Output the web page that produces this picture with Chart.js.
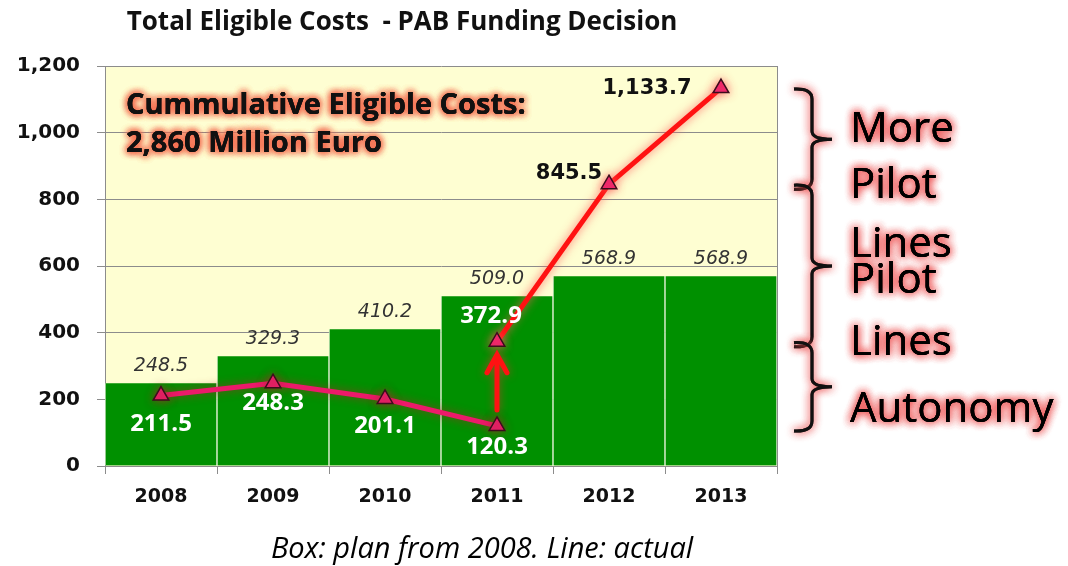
<!DOCTYPE html>
<html>
<head>
<meta charset="utf-8">
<script src="https://cdn.jsdelivr.net/npm/chart.js@4/dist/chart.umd.min.js"></script>
<style>
  html, body { margin: 0; padding: 0; background: #ffffff; }
  #wrap { width: 1068px; height: 566px; }
</style>
</head>
<body>
<div id="wrap"><canvas id="chart" width="1068" height="566"></canvas></div>
<script>
// data
const years = ['2008', '2009', '2010', '2011', '2012', '2013'];
const planValues = [248.5, 329.3, 410.2, 509.0, 568.9, 568.9];
const actualValues = [211.5, 248.3, 201.1, 120.3, null, null];
const upgradeValues = [null, null, null, 372.9, 845.5, 1133.7];
const sideLabels = ['More', 'Pilot', 'Lines', 'Pilot', 'Lines', 'Autonomy'];
const noteLines = ['Cummulative Eligible Costs:', '2,860 Million Euro'];
const chartTitle = 'Total Eligible Costs  - PAB Funding Decision';
const caption = 'Box: plan from 2008. Line: actual';

const GREEN = '#009000';
const PINK = '#ec1a6a';
const RED = '#ff1212';

function fmt(v) {
  return v.toLocaleString('en-US', { minimumFractionDigits: 1, maximumFractionDigits: 1 });
}

function glowText(ctx, text, x, y, glow, blur, passes) {
  ctx.save();
  ctx.shadowColor = glow;
  ctx.shadowBlur = blur;
  for (let i = 0; i < passes; i++) ctx.fillText(text, x, y);
  ctx.restore();
  ctx.fillText(text, x, y);
}

// yellow plot background + right border
const plotBackground = {
  id: 'plotBackground',
  beforeDraw(chart) {
    const { ctx, chartArea: a } = chart;
    ctx.save();
    ctx.fillStyle = '#fefed2';
    ctx.fillRect(a.left, a.top, a.right - a.left, a.bottom - a.top);
    ctx.restore();
  },
  afterDraw(chart) {
    const { ctx, chartArea: a } = chart;
    ctx.save();
    ctx.strokeStyle = '#8c8c8c';
    ctx.lineWidth = 1;
    ctx.beginPath();
    ctx.moveTo(a.right + 0.5, a.top);
    ctx.lineTo(a.right + 0.5, a.bottom);
    ctx.stroke();
    ctx.restore();
  }
};

// glow under the line datasets
const lineGlow = {
  id: 'lineGlow',
  beforeDatasetDraw(chart, args) {
    const ds = chart.data.datasets[args.index];
    if (ds.type !== 'line') return;
    chart.ctx.save();
    chart.ctx.shadowColor = ds.glow;
    chart.ctx.shadowBlur = 10;
  },
  afterDatasetDraw(chart, args) {
    const ds = chart.data.datasets[args.index];
    if (ds.type !== 'line') return;
    chart.ctx.restore();
  }
};

const labelsAndNotes = {
  id: 'labelsAndNotes',
  afterDatasetsDraw(chart) {
    const { ctx, scales } = chart;
    const y = scales.y;
    const x = scales.x;
    ctx.save();

    // arrow from 2011 actual to 2011 upgraded
    const ax = x.getPixelForValue(3);
    const y0 = y.getPixelForValue(actualValues[3]) - 16;
    const y1 = y.getPixelForValue(upgradeValues[3]) + 13;
    ctx.save();
    ctx.strokeStyle = RED;
    ctx.lineWidth = 5;
    ctx.lineCap = 'round';
    ctx.shadowColor = 'rgba(200,60,40,0.8)';
    ctx.shadowBlur = 8;
    ctx.beginPath();
    ctx.moveTo(ax, y0);
    ctx.lineTo(ax, y1);
    ctx.moveTo(ax - 10, y1 + 18);
    ctx.lineTo(ax, y1);
    ctx.lineTo(ax + 10, y1 + 18);
    ctx.stroke();
    ctx.restore();

    // plan labels above the bars
    const barMeta = chart.getDatasetMeta(2);
    ctx.font = 'oblique 19px "DejaVu Sans"';
    ctx.fillStyle = '#333333';
    ctx.textAlign = 'center';
    ctx.textBaseline = 'middle';
    barMeta.data.forEach((bar, i) => {
      ctx.fillText(planValues[i].toFixed(1), bar.x, bar.y - 17);
    });

    // actual labels, white under the points
    const actMeta = chart.getDatasetMeta(0);
    ctx.font = 'bold 24px "Open Sans"';
    ctx.fillStyle = '#ffffff';
    const actOffsets = [29, 20, 27, 21];
    actMeta.data.forEach((pt, i) => {
      if (actualValues[i] == null) return;
      ctx.fillText(fmt(actualValues[i]), pt.x, pt.y + actOffsets[i]);
    });

    // upgraded labels
    const upMeta = chart.getDatasetMeta(1);
    const p3 = upMeta.data[3];
    ctx.fillText(fmt(upgradeValues[3]), p3.x - 6, p3.y - 26);
    ctx.font = 'bold 21px "DejaVu Sans"';
    ctx.fillStyle = '#111111';
    const p4 = upMeta.data[4];
    ctx.fillText(fmt(upgradeValues[4]), p4.x - 40, p4.y - 11);
    const p5 = upMeta.data[5];
    ctx.fillText(fmt(upgradeValues[5]), p5.x - 74, p5.y);

    // note inside the plot
    ctx.textAlign = 'left';
    ctx.textBaseline = 'alphabetic';
    ctx.font = 'bold 29px "Open Sans"';
    ctx.fillStyle = '#111111';
    glowText(ctx, noteLines[0], 126, 114, 'rgba(245,110,80,0.95)', 7, 4);
    glowText(ctx, noteLines[1], 126, 152, 'rgba(245,110,80,0.95)', 7, 4);

    ctx.restore();
  },
  afterDraw(chart) {
    const { ctx, scales } = chart;
    const y = scales.y;
    ctx.save();

    // title and caption
    ctx.fillStyle = '#111111';
    ctx.textAlign = 'center';
    ctx.textBaseline = 'alphabetic';
    ctx.font = 'bold 26px "Open Sans"';
    ctx.fillText(chartTitle, 402, 30);
    ctx.font = 'italic 29px "Open Sans"';
    ctx.fillStyle = '#000000';
    ctx.fillText(caption, 482, 558);

    // braces on the right, spanning the line's steps
    const spans = [
      [upgradeValues[5], upgradeValues[4]],
      [upgradeValues[4], upgradeValues[3]],
      [upgradeValues[3], actualValues[3]]
    ];
    const bx = 812;
    spans.forEach(([hi, lo]) => {
      const top = y.getPixelForValue(hi) + 1;
      const bot = y.getPixelForValue(lo) + 5;
      const mid = (top + bot) / 2;
      ctx.save();
      ctx.strokeStyle = '#111111';
      ctx.lineWidth = 3;
      ctx.shadowColor = 'rgba(235,70,70,0.85)';
      ctx.shadowBlur = 9;
      for (let k = 0; k < 2; k++) {
        ctx.beginPath();
        ctx.moveTo(bx - 18, top);
        ctx.quadraticCurveTo(bx, top - 1, bx, top + 10);
        ctx.lineTo(bx, mid - 8);
        ctx.quadraticCurveTo(bx, mid, bx + 20, mid);
        ctx.moveTo(bx + 20, mid);
        ctx.quadraticCurveTo(bx, mid, bx, mid + 8);
        ctx.lineTo(bx, bot - 10);
        ctx.quadraticCurveTo(bx, bot + 1, bx - 18, bot);
        ctx.stroke();
      }
      ctx.restore();
    });

    // side labels
    ctx.textAlign = 'left';
    ctx.font = '42px "Open Sans"';
    ctx.fillStyle = '#000000';
    const baselines = [142, 198, 257, 293, 355, 422];
    sideLabels.forEach((t, i) => {
      glowText(ctx, t, 850, baselines[i], 'rgba(235,60,60,0.85)', 9, 3);
    });

    ctx.restore();
  }
};

const ctx = document.getElementById('chart').getContext('2d');
new Chart(ctx, {
  type: 'bar',
  data: {
    labels: years,
    datasets: [
      {
        type: 'line',
        label: 'Actual',
        data: actualValues,
        borderColor: PINK,
        borderWidth: 5,
        glow: 'rgba(170,40,40,0.75)',
        pointStyle: 'triangle',
        pointRadius: 9,
        pointBackgroundColor: '#ea1f6e',
        pointBorderColor: '#3c0c1c',
        pointBorderWidth: 1.5,
        tension: 0,
        order: 1
      },
      {
        type: 'line',
        label: 'Upgrade',
        data: upgradeValues,
        borderColor: RED,
        borderWidth: 5,
        glow: 'rgba(255,90,90,0.85)',
        pointStyle: 'triangle',
        pointRadius: 9,
        pointBackgroundColor: '#ea1f6e',
        pointBorderColor: '#3c0c1c',
        pointBorderWidth: 1.5,
        tension: 0,
        order: 0
      },
      {
        type: 'bar',
        label: 'Plan',
        data: planValues,
        backgroundColor: GREEN,
        borderColor: 'rgba(235,245,225,0.9)',
        borderWidth: { left: 1, right: 1, top: 0, bottom: 0 },
        borderSkipped: false,
        categoryPercentage: 1,
        barPercentage: 1,
        order: 2
      }
    ]
  },
  options: {
    responsive: false,
    animation: false,
    events: [],
    layout: { padding: { left: 0, right: 291, top: 66, bottom: 50 } },
    plugins: {
      legend: { display: false },
      tooltip: { enabled: false },
      title: { display: false }
    },
    scales: {
      x: {
        afterFit(s) { s.height = 50; },
        grid: {
          display: true,
          drawOnChartArea: false,
          offset: true,
          tickLength: 8,
          color: '#8c8c8c'
        },
        border: { color: '#8c8c8c' },
        ticks: {
          padding: 12,
          color: '#111111',
          font: { family: 'DejaVu Sans', weight: 'bold', size: 19 }
        }
      },
      y: {
        min: 0,
        max: 1200,
        afterFit(s) { s.width = 105; },
        grid: { color: '#8c8c8c', tickLength: 8 },
        border: { color: '#8c8c8c' },
        ticks: {
          stepSize: 200,
          padding: 17,
          color: '#111111',
          font: { family: 'DejaVu Sans', weight: 'bold', size: 20 },
          callback: (v) => v.toLocaleString('en-US')
        }
      }
    }
  },
  plugins: [plotBackground, lineGlow, labelsAndNotes]
});
</script>
</body>
</html>
